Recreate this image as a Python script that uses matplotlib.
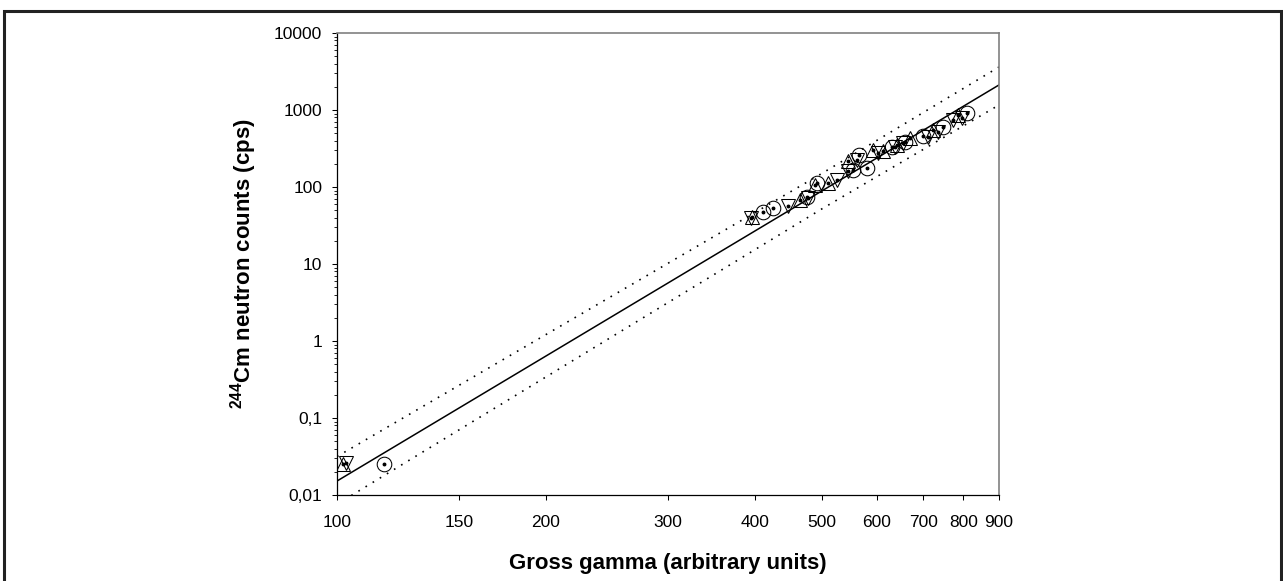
import matplotlib
matplotlib.use('Agg')
import matplotlib.pyplot as plt
from matplotlib.patches import Rectangle
from matplotlib.ticker import FixedLocator, FixedFormatter, NullLocator, LogLocator

plt.rcParams['font.family'] = ['Liberation Sans', 'DejaVu Sans']
plt.rcParams['mathtext.fontset'] = 'custom'
plt.rcParams['mathtext.rm'] = 'Liberation Sans'
plt.rcParams['mathtext.bf'] = 'Liberation Sans:bold'

# measurements, one list per marker type (x = gross gamma, y = neutron cps)
circle_x = [117, 411, 425, 476, 492, 554, 565, 580, 631, 658, 699, 747, 809]
circle_y = [0.025, 47, 53, 74, 113, 166, 260, 176, 331, 384, 459, 601, 914]

tri_up_x = [102, 396, 465, 488, 510, 545, 592, 612, 641, 669, 723, 785]
tri_up_y = [0.025, 41, 68, 106, 113, 218, 303, 294, 351, 433, 549, 861]

tri_down_x = [103, 395, 447, 477, 525, 545, 562, 602, 637, 654, 711, 735, 772, 796]
tri_down_y = [0.026, 40, 57, 72, 123, 161, 224, 277, 331, 372, 445, 518, 741, 787]

# regression line and prediction band
fit_x = [100, 900]
fit_y = [0.0152, 2113]
band_x = [100, 500, 900]
upper_y = [0.0316, 150, 3614]
lower_y = [0.0076, 52, 1161]

x_ticks = [100, 150, 200, 300, 400, 500, 600, 700, 800, 900]
y_ticks = [0.01, 0.1, 1, 10, 100, 1000, 10000]
y_labels = ['0,01', '0,1', '1', '10', '100', '1000', '10000']

fig = plt.figure(figsize=(12.83, 5.81), dpi=100)
ax = fig.add_axes([0.2627, 0.148, 0.5159, 0.7952])

ax.plot(fit_x, fit_y, color='black', lw=1.1)
ax.plot(band_x, upper_y, color='black', lw=1.2, linestyle=(0, (1, 4)))
ax.plot(band_x, lower_y, color='black', lw=1.2, linestyle=(0, (1, 4)))

mk = dict(linestyle='none', markerfacecolor='none', markeredgecolor='black',
          markeredgewidth=0.75, markersize=10.5)
ax.plot(circle_x, circle_y, marker='o', **mk)
ax.plot(tri_up_x, tri_up_y, marker='^', **mk)
ax.plot(tri_down_x, tri_down_y, marker='v', **mk)
for xs, ys in [(circle_x, circle_y), (tri_up_x, tri_up_y), (tri_down_x, tri_down_y)]:
    ax.plot(xs, ys, linestyle='none', marker='o', markersize=1.8, color='black')

ax.set_xscale('log')
ax.set_yscale('log')
ax.set_xlim(100, 900)
ax.set_ylim(0.01, 10000)

ax.xaxis.set_major_locator(FixedLocator(x_ticks))
ax.xaxis.set_major_formatter(FixedFormatter([str(t) for t in x_ticks]))
ax.xaxis.set_minor_locator(NullLocator())
ax.yaxis.set_major_locator(FixedLocator(y_ticks))
ax.yaxis.set_major_formatter(FixedFormatter(y_labels))
ax.yaxis.set_minor_locator(LogLocator(base=10, subs=range(2, 10)))

ax.tick_params(axis='both', which='major', direction='out', length=3.6, width=0.75,
               labelsize=12.5, colors='black')
ax.tick_params(axis='x', which='major', pad=10.5)
ax.tick_params(axis='y', which='major', pad=7)
ax.tick_params(axis='y', which='minor', direction='out', length=2.2, width=0.6)
ax.tick_params(top=False, right=False, which='both')

for s in ['left', 'bottom']:
    ax.spines[s].set_color('black')
    ax.spines[s].set_linewidth(0.9)
for s in ['top', 'right']:
    ax.spines[s].set_color('#808080')
    ax.spines[s].set_linewidth(1.2)

ax.set_xlabel('Gross gamma (arbitrary units)', fontsize=16, fontweight='bold', labelpad=17)
ax.set_ylabel(r'$\mathbf{^{244}}$Cm neutron counts (cps)', fontsize=16, fontweight='bold',
              labelpad=11)

# outer frame around the whole figure
fig.patches.append(Rectangle((4 / 1283, -0.05), 1277 / 1283, 0.05 + 570 / 581,
                             transform=fig.transFigure, fill=False, edgecolor='#222222',
                             linewidth=2.2, clip_on=False))

fig.savefig('out.png', dpi=100)
